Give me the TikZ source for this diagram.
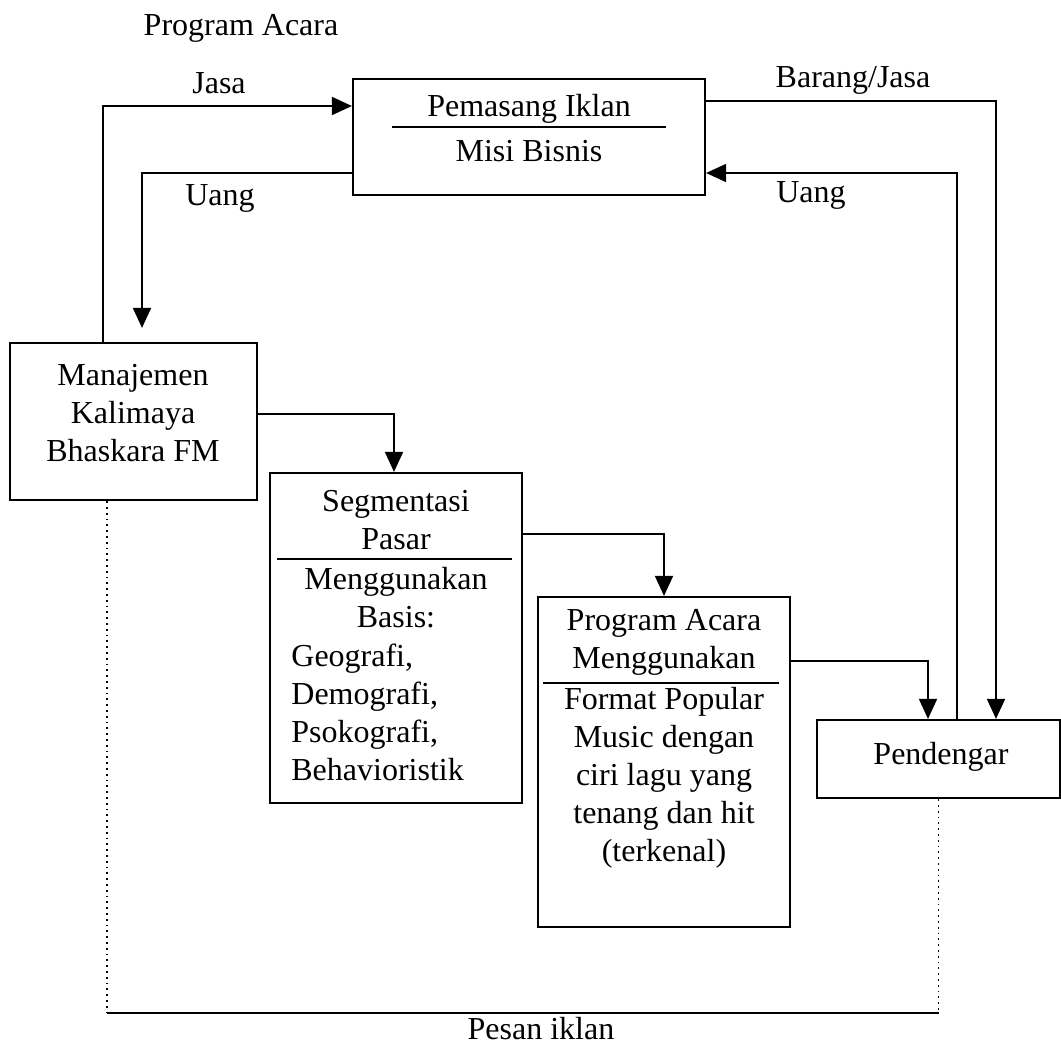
\documentclass[tikz,border=0pt]{standalone}
\usepackage{fontspec}
\setmainfont{Liberation Serif}
\usetikzlibrary{arrows.meta}

\begin{document}
\begin{tikzpicture}[x=0.5pt, y=-0.5pt,
kotak/.style={rectangle, draw=black, line width=1.1pt, inner sep=0pt},
teks/.style={font=\fontsize{16}{19}\selectfont, align=center, inner sep=0pt},
garis/.style={draw=black, line width=0.9pt},
panah/.style={garis, -{Triangle[length=10pt, width=9pt]}},
titik/.style={draw=black, line width=0.9pt, dotted},
]
\useasboundingbox (0,0) rectangle (1061,1045);

\node[kotak, minimum width=176pt, minimum height=58pt] (iklan) at (529,137) {};
\node[kotak, minimum width=123.5pt, minimum height=78.5pt] (manajemen) at (133.5,421.5) {};
\node[kotak, minimum width=126pt, minimum height=165pt] (segmen) at (396,638) {};
\node[kotak, minimum width=126pt, minimum height=165pt] (program) at (664,762) {};
\node[kotak, minimum width=121.5pt, minimum height=39pt] (pendengar) at (938.5,759) {};

\node[teks] (t-iklan1) at (529,109) {Pemasang Iklan};
\node[teks] (t-iklan2) at (529,151) {Misi Bisnis};
\draw[garis] (392,127) -- (666,127);

\node[teks] (t-manajemen) at (133,413) {Manajemen\\Kalimaya\\Bhaskara FM};

\node[teks] (t-segmen) at (396,520) {Segmentasi\\Pasar};
\draw[garis] (277,559) -- (512,559);
\node[teks] (t-basis) at (396,598) {Menggunakan\\Basis:};
\node[teks, align=left, anchor=west] (t-daftar) at (291,712) {Geografi,\\Demografi,\\Psokografi,\\Behavioristik};

\node[teks] (t-program) at (664,642) {Program Acara\\Menggunakan};
\draw[garis] (543,683) -- (779,683);
\node[teks] (t-format) at (664,778) {Format Popular\\Music dengan\\ciri lagu yang\\tenang dan hit\\(terkenal)};

\node[teks] (t-pendengar) at (941,757) {Pendengar};

\node[teks] (l-program) at (241,28) {Program Acara};
\node[teks] (l-jasa) at (219,83) {Jasa};
\node[teks] (l-uang1) at (220,198) {Uang};
\node[teks] (l-barang) at (853,80) {Barang/Jasa};
\node[teks] (l-uang2) at (811,195) {Uang};
\node[teks] (l-pesan) at (541,1029) {Pesan iklan};

\coordinate (jasa) at (103,106);
\coordinate (uangkiri) at (142,173);
\coordinate (barang) at (996,101);
\coordinate (uangkanan) at (957,173);
\coordinate (tekuk1) at (394,414);
\coordinate (tekuk2) at (664,534);
\coordinate (tekuk3) at (928,661);
\coordinate (pesan) at (107,1013);

\draw[panah] (manajemen.north -| jasa) |- (iklan.west |- jasa);
\draw[panah, shorten >=7pt] (iklan.west |- uangkiri) -| (manajemen.north -| uangkiri);
\draw[panah] (iklan.east |- barang) -| (pendengar.north -| barang);
\draw[panah] (pendengar.north -| uangkanan) |- (iklan.east |- uangkanan);
\draw[panah] (manajemen.east |- tekuk1) -| (segmen.north -| tekuk1);
\draw[panah] (segmen.east |- tekuk2) -| (program.north);
\draw[panah] (program.east |- tekuk3) -| (pendengar.north -| tekuk3);

\draw[titik] (manajemen.south -| pesan) -- (pesan);
\draw[garis] (pesan) -- (pesan -| pendengar.south);
\draw[titik] (pendengar.south) -- (pesan -| pendengar.south);
\end{tikzpicture}
\end{document}
